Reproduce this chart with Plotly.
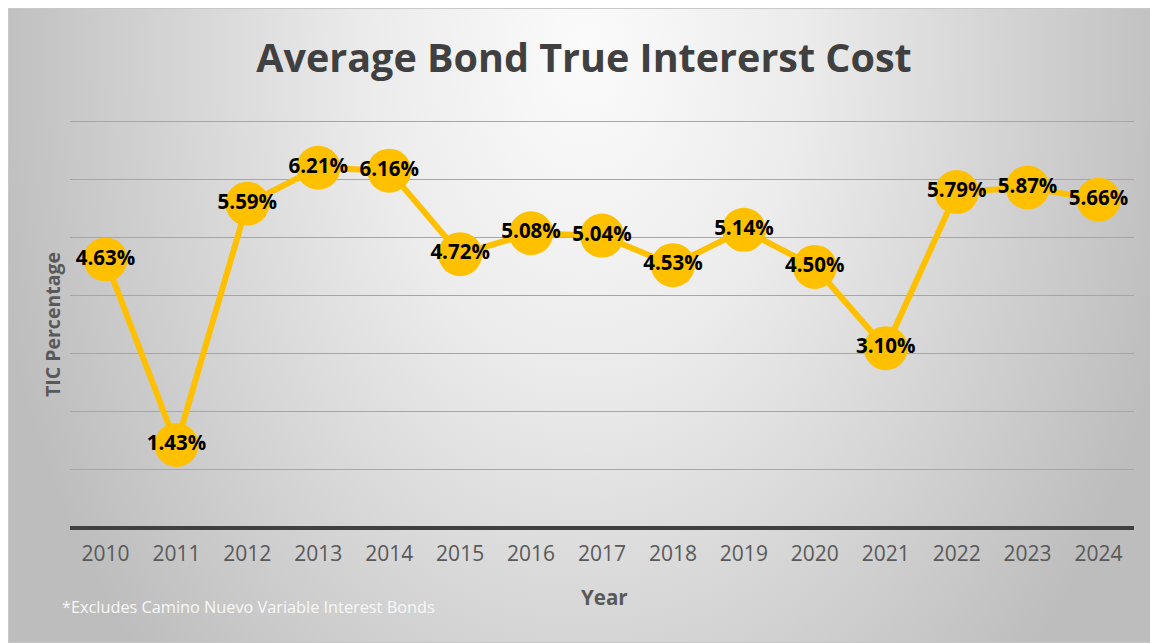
import base64
import plotly.graph_objects as go

years = ["2010", "2011", "2012", "2013", "2014", "2015", "2016", "2017",
         "2018", "2019", "2020", "2021", "2022", "2023", "2024"]
tic_pct = [4.63, 1.43, 5.59, 6.21, 6.16, 4.72, 5.08, 5.04,
           4.53, 5.14, 4.50, 3.10, 5.79, 5.87, 5.66]
labels = [f"{v:.2f}%" for v in tic_pct]

# page has an 8px body margin: figure coords = screen coords - 8
OFF = 8
W, H = 1158 - OFF, 643 - OFF
L, R, T, B = 70 - OFF, 24, 119 - OFF, 643 - 528
PW, PH = W - L - R, H - T - B

# background (radial gray gradient) as an svg image
bw, bh = W, H
svg = f'''<svg xmlns="http://www.w3.org/2000/svg" width="{bw}" height="{bh}" viewBox="0 0 {bw} {bh}" preserveAspectRatio="none">
<defs><radialGradient id="g" gradientUnits="userSpaceOnUse" cx="578" cy="45" r="610"
 gradientTransform="translate(578,45) scale(1,1.45) translate(-578,-45)">
<stop offset="0" stop-color="#fbfbfb"/><stop offset="0.35" stop-color="#ececec"/><stop offset="1" stop-color="#bdbdbd"/></radialGradient></defs>
<rect x="0" y="0" width="{bw}" height="{bh}" fill="url(#g)"/>
<rect x="0.5" y="0.5" width="{bw-1}" height="{bh-1}" fill="none" stroke="#c8c8c8" stroke-width="1"/>
</svg>'''
src = "data:image/svg+xml;base64," + base64.b64encode(svg.encode()).decode()

def px_x(p):
    return (p - OFF - L) / PW

def px_y(p):
    return 1 - (p - OFF - T) / PH

fig = go.Figure()
fig.add_trace(go.Scatter(
    x=years, y=tic_pct, mode="lines+markers+text",
    line=dict(color="#FFC000", width=6),
    marker=dict(color="#FFC000", size=44, line=dict(width=0)),
    text=labels, textposition="middle center",
    textfont=dict(family="Open Sans", size=20.5, color="#000000", weight="bold"),
    cliponaxis=False, hoverinfo="skip",
))

fig.update_layout(
    width=W, height=H,
    margin=dict(l=L, r=R, t=T, b=B),
    paper_bgcolor="#ffffff", plot_bgcolor="rgba(0,0,0,0)",
    showlegend=False,
    images=[dict(source=src, xref="paper", yref="paper",
                 x=-L / PW, y=1 + T / PH, sizex=bw / PW, sizey=bh / PH,
                 xanchor="left", yanchor="top", sizing="stretch", layer="below")],
    title=dict(text="Average Bond True Intererst Cost",
               font=dict(family="Open Sans", size=39.5, color="#404040", weight="bold"),
               x=(584 - OFF) / W, xref="container", xanchor="center",
               y=1 - (58 - OFF) / H, yref="container", yanchor="middle"),
    xaxis=dict(type="category", range=[-0.5, 14.5], showgrid=False,
               showline=False, zeroline=False,
               ticks="outside", ticklen=7, tickcolor="rgba(0,0,0,0)",
               tickfont=dict(family="Open Sans", size=21, color="#595959")),
    yaxis=dict(range=[0, 7.05], dtick=1, tick0=0, showticklabels=False,
               showgrid=True, gridcolor="#a6a6a6", gridwidth=1.3,
               zeroline=True, zerolinecolor="#404040", zerolinewidth=3.5,
               showline=False),
    annotations=[
        dict(text="<b>TIC Percentage</b>", textangle=-90, xref="paper", yref="paper",
             x=px_x(52), y=px_y(325), xanchor="center", yanchor="middle", showarrow=False,
             font=dict(family="Open Sans", size=19.5, color="#595959")),
        dict(text="<b>Year</b>", xref="paper", yref="paper",
             x=px_x(604), y=px_y(597), xanchor="center", yanchor="middle", showarrow=False,
             font=dict(family="Open Sans", size=20.5, color="#595959")),
        dict(text="*Excludes Camino Nuevo Variable Interest Bonds", xref="paper", yref="paper",
             x=px_x(60), y=px_y(607), xanchor="left", yanchor="middle", showarrow=False,
             font=dict(family="Open Sans", size=16.3, color="#f8f8f8")),
    ],
)

fig.write_html("out.html")
